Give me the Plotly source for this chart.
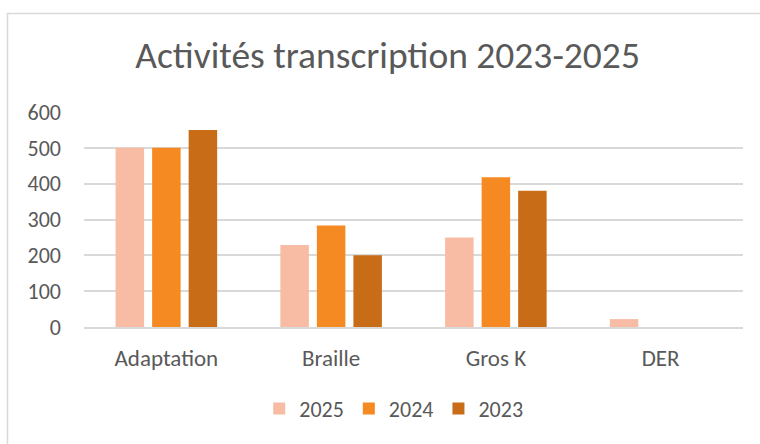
import plotly.graph_objects as go

categories = ["Adaptation", "Braille", "Gros K", "DER"]
years = ["2025", "2024", "2023"]
values_2025 = [500, 229, 250, 22]
values_2024 = [500, 283, 418, 0]
values_2023 = [550, 200, 380, 0]

colors = {"2025": "#F8BBA3", "2024": "#F58A22", "2023": "#C96C18"}
series = {"2025": values_2025, "2024": values_2024, "2023": values_2023}

W, H = 760, 444
ML, MR, MT, MB = 84, 17, 112, 117

fig = go.Figure()
for y in years:
    fig.add_trace(go.Bar(
        x=categories, y=series[y], name=y,
        marker=dict(color=colors[y], line=dict(width=0)),
    ))

# light grey chart frame (left + top edges visible in the crop)
pw, ph = W - ML - MR, H - MT - MB
fig.add_shape(type="rect", xref="paper", yref="paper",
              x0=(7.5 - ML) / pw, x1=(W + 10 - ML) / pw,
              y0=(H - MB - (H + 10)) / ph, y1=(H - MB - 13.5) / ph,
              line=dict(color="#D9D9D9", width=1.5), layer="below")

font = "Carlito, Calibri, 'Open Sans', sans-serif"
fig.update_layout(
    width=W, height=H,
    margin=dict(l=ML, r=MR, t=MT, b=MB, autoexpand=False),
    paper_bgcolor="white", plot_bgcolor="white",
    font=dict(family=font, color="#595959", size=22),
    title=dict(text="Activités transcription 2023-2025", x=0.51, xanchor="center",
               y=1 - 55 / H, yanchor="middle",
               font=dict(size=37.5, color="#595959", family=font)),
    barmode="group", bargap=0.335, bargroupgap=0.22,
    showlegend=True,
    legend=dict(orientation="h", x=0.47, xanchor="center", y=-0.38, yanchor="middle",
                font=dict(size=22, color="#595959"), itemwidth=30, traceorder="normal"),
)
fig.update_xaxes(showgrid=False, showline=True, linecolor="#D9D9D9", linewidth=1.5,
                 ticks="", tickfont=dict(size=23, color="#595959"), ticklabelstandoff=10)
fig.update_yaxes(range=[0, 600], dtick=100, showgrid=True, gridcolor="#D9D9D9", gridwidth=1.5,
                 zeroline=False, showline=False, ticks="",
                 tickfont=dict(size=22, color="#595959"), ticklabelstandoff=22)

fig.write_html("out.html", config={"displayModeBar": False},
               post_script="document.body.style.margin='0';")
